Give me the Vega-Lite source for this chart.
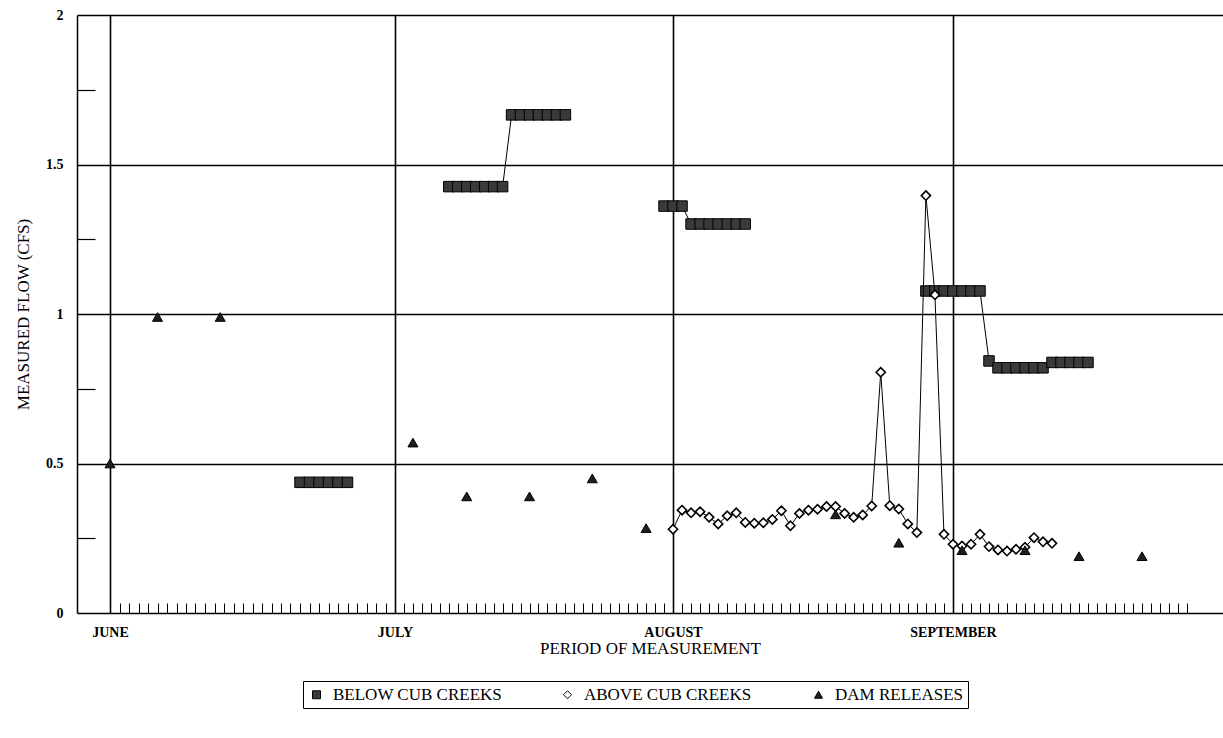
{
  "$schema": "https://vega.github.io/schema/vega-lite/v6.json",
  "width": 1146,
  "height": 598,
  "autosize": {"type": "none"},
  "padding": {"left": 77, "top": 15, "right": 0, "bottom": 125},
  "background": "white",
  "config": {
    "view": {"stroke": null},
    "font": "Liberation Serif"
  },
  "data": {
    "values": [
      {"series": "BELOW CUB CREEKS", "seg": "b1", "day": 20, "flow": 0.437},
      {"series": "BELOW CUB CREEKS", "seg": "b1", "day": 21, "flow": 0.437},
      {"series": "BELOW CUB CREEKS", "seg": "b1", "day": 22, "flow": 0.437},
      {"series": "BELOW CUB CREEKS", "seg": "b1", "day": 23, "flow": 0.437},
      {"series": "BELOW CUB CREEKS", "seg": "b1", "day": 24, "flow": 0.437},
      {"series": "BELOW CUB CREEKS", "seg": "b1", "day": 25, "flow": 0.437},
      {"series": "BELOW CUB CREEKS", "seg": "b2", "day": 36, "flow": 1.426},
      {"series": "BELOW CUB CREEKS", "seg": "b2", "day": 37, "flow": 1.426},
      {"series": "BELOW CUB CREEKS", "seg": "b2", "day": 38, "flow": 1.426},
      {"series": "BELOW CUB CREEKS", "seg": "b2", "day": 39, "flow": 1.426},
      {"series": "BELOW CUB CREEKS", "seg": "b2", "day": 40, "flow": 1.426},
      {"series": "BELOW CUB CREEKS", "seg": "b2", "day": 41, "flow": 1.426},
      {"series": "BELOW CUB CREEKS", "seg": "b2", "day": 42, "flow": 1.426},
      {"series": "BELOW CUB CREEKS", "seg": "b2", "day": 43, "flow": 1.666},
      {"series": "BELOW CUB CREEKS", "seg": "b2", "day": 44, "flow": 1.666},
      {"series": "BELOW CUB CREEKS", "seg": "b2", "day": 45, "flow": 1.666},
      {"series": "BELOW CUB CREEKS", "seg": "b2", "day": 46, "flow": 1.666},
      {"series": "BELOW CUB CREEKS", "seg": "b2", "day": 47, "flow": 1.666},
      {"series": "BELOW CUB CREEKS", "seg": "b2", "day": 48, "flow": 1.666},
      {"series": "BELOW CUB CREEKS", "seg": "b2", "day": 49, "flow": 1.666},
      {"series": "BELOW CUB CREEKS", "seg": "b3", "day": 60, "flow": 1.361},
      {"series": "BELOW CUB CREEKS", "seg": "b3", "day": 61, "flow": 1.361},
      {"series": "BELOW CUB CREEKS", "seg": "b3", "day": 62, "flow": 1.361},
      {"series": "BELOW CUB CREEKS", "seg": "b3", "day": 63, "flow": 1.301},
      {"series": "BELOW CUB CREEKS", "seg": "b3", "day": 64, "flow": 1.301},
      {"series": "BELOW CUB CREEKS", "seg": "b3", "day": 65, "flow": 1.301},
      {"series": "BELOW CUB CREEKS", "seg": "b3", "day": 66, "flow": 1.301},
      {"series": "BELOW CUB CREEKS", "seg": "b3", "day": 67, "flow": 1.301},
      {"series": "BELOW CUB CREEKS", "seg": "b3", "day": 68, "flow": 1.301},
      {"series": "BELOW CUB CREEKS", "seg": "b3", "day": 69, "flow": 1.301},
      {"series": "BELOW CUB CREEKS", "seg": "b4", "day": 89, "flow": 1.077},
      {"series": "BELOW CUB CREEKS", "seg": "b4", "day": 90, "flow": 1.077},
      {"series": "BELOW CUB CREEKS", "seg": "b4", "day": 91, "flow": 1.077},
      {"series": "BELOW CUB CREEKS", "seg": "b4", "day": 92, "flow": 1.077},
      {"series": "BELOW CUB CREEKS", "seg": "b4", "day": 93, "flow": 1.077},
      {"series": "BELOW CUB CREEKS", "seg": "b4", "day": 94, "flow": 1.077},
      {"series": "BELOW CUB CREEKS", "seg": "b4", "day": 95, "flow": 1.077},
      {"series": "BELOW CUB CREEKS", "seg": "b4", "day": 96, "flow": 0.843},
      {"series": "BELOW CUB CREEKS", "seg": "b4", "day": 97, "flow": 0.82},
      {"series": "BELOW CUB CREEKS", "seg": "b4", "day": 98, "flow": 0.82},
      {"series": "BELOW CUB CREEKS", "seg": "b4", "day": 99, "flow": 0.82},
      {"series": "BELOW CUB CREEKS", "seg": "b4", "day": 100, "flow": 0.82},
      {"series": "BELOW CUB CREEKS", "seg": "b4", "day": 101, "flow": 0.82},
      {"series": "BELOW CUB CREEKS", "seg": "b4", "day": 102, "flow": 0.82},
      {"series": "BELOW CUB CREEKS", "seg": "b4", "day": 103, "flow": 0.838},
      {"series": "BELOW CUB CREEKS", "seg": "b4", "day": 104, "flow": 0.838},
      {"series": "BELOW CUB CREEKS", "seg": "b4", "day": 105, "flow": 0.838},
      {"series": "BELOW CUB CREEKS", "seg": "b4", "day": 106, "flow": 0.838},
      {"series": "BELOW CUB CREEKS", "seg": "b4", "day": 107, "flow": 0.838},
      {"series": "ABOVE CUB CREEKS", "seg": "a", "day": 61, "flow": 0.28},
      {"series": "ABOVE CUB CREEKS", "seg": "a", "day": 62, "flow": 0.344},
      {"series": "ABOVE CUB CREEKS", "seg": "a", "day": 63, "flow": 0.335},
      {"series": "ABOVE CUB CREEKS", "seg": "a", "day": 64, "flow": 0.339},
      {"series": "ABOVE CUB CREEKS", "seg": "a", "day": 65, "flow": 0.32},
      {"series": "ABOVE CUB CREEKS", "seg": "a", "day": 66, "flow": 0.298},
      {"series": "ABOVE CUB CREEKS", "seg": "a", "day": 67, "flow": 0.325},
      {"series": "ABOVE CUB CREEKS", "seg": "a", "day": 68, "flow": 0.335},
      {"series": "ABOVE CUB CREEKS", "seg": "a", "day": 69, "flow": 0.303},
      {"series": "ABOVE CUB CREEKS", "seg": "a", "day": 70, "flow": 0.3},
      {"series": "ABOVE CUB CREEKS", "seg": "a", "day": 71, "flow": 0.302},
      {"series": "ABOVE CUB CREEKS", "seg": "a", "day": 72, "flow": 0.313},
      {"series": "ABOVE CUB CREEKS", "seg": "a", "day": 73, "flow": 0.342},
      {"series": "ABOVE CUB CREEKS", "seg": "a", "day": 74, "flow": 0.292},
      {"series": "ABOVE CUB CREEKS", "seg": "a", "day": 75, "flow": 0.333},
      {"series": "ABOVE CUB CREEKS", "seg": "a", "day": 76, "flow": 0.344},
      {"series": "ABOVE CUB CREEKS", "seg": "a", "day": 77, "flow": 0.347},
      {"series": "ABOVE CUB CREEKS", "seg": "a", "day": 78, "flow": 0.356},
      {"series": "ABOVE CUB CREEKS", "seg": "a", "day": 79, "flow": 0.356},
      {"series": "ABOVE CUB CREEKS", "seg": "a", "day": 80, "flow": 0.333},
      {"series": "ABOVE CUB CREEKS", "seg": "a", "day": 81, "flow": 0.32},
      {"series": "ABOVE CUB CREEKS", "seg": "a", "day": 82, "flow": 0.328},
      {"series": "ABOVE CUB CREEKS", "seg": "a", "day": 83, "flow": 0.358},
      {"series": "ABOVE CUB CREEKS", "seg": "a", "day": 84, "flow": 0.805},
      {"series": "ABOVE CUB CREEKS", "seg": "a", "day": 85, "flow": 0.359},
      {"series": "ABOVE CUB CREEKS", "seg": "a", "day": 86, "flow": 0.348},
      {"series": "ABOVE CUB CREEKS", "seg": "a", "day": 87, "flow": 0.298},
      {"series": "ABOVE CUB CREEKS", "seg": "a", "day": 88, "flow": 0.269},
      {"series": "ABOVE CUB CREEKS", "seg": "a", "day": 89, "flow": 1.396},
      {"series": "ABOVE CUB CREEKS", "seg": "a", "day": 90, "flow": 1.064},
      {"series": "ABOVE CUB CREEKS", "seg": "a", "day": 91, "flow": 0.263},
      {"series": "ABOVE CUB CREEKS", "seg": "a", "day": 92, "flow": 0.23},
      {"series": "ABOVE CUB CREEKS", "seg": "a", "day": 93, "flow": 0.224},
      {"series": "ABOVE CUB CREEKS", "seg": "a", "day": 94, "flow": 0.23},
      {"series": "ABOVE CUB CREEKS", "seg": "a", "day": 95, "flow": 0.263},
      {"series": "ABOVE CUB CREEKS", "seg": "a", "day": 96, "flow": 0.222},
      {"series": "ABOVE CUB CREEKS", "seg": "a", "day": 97, "flow": 0.211},
      {"series": "ABOVE CUB CREEKS", "seg": "a", "day": 98, "flow": 0.207},
      {"series": "ABOVE CUB CREEKS", "seg": "a", "day": 99, "flow": 0.213},
      {"series": "ABOVE CUB CREEKS", "seg": "a", "day": 100, "flow": 0.22},
      {"series": "ABOVE CUB CREEKS", "seg": "a", "day": 101, "flow": 0.252},
      {"series": "ABOVE CUB CREEKS", "seg": "a", "day": 102, "flow": 0.238},
      {"series": "ABOVE CUB CREEKS", "seg": "a", "day": 103, "flow": 0.233},
      {"series": "DAM RELEASES", "seg": "d", "day": 0, "flow": 0.5},
      {"series": "DAM RELEASES", "seg": "d", "day": 5, "flow": 0.99},
      {"series": "DAM RELEASES", "seg": "d", "day": 11.6, "flow": 0.99},
      {"series": "DAM RELEASES", "seg": "d", "day": 32, "flow": 0.57},
      {"series": "DAM RELEASES", "seg": "d", "day": 38, "flow": 0.39},
      {"series": "DAM RELEASES", "seg": "d", "day": 45, "flow": 0.39},
      {"series": "DAM RELEASES", "seg": "d", "day": 52, "flow": 0.45},
      {"series": "DAM RELEASES", "seg": "d", "day": 58, "flow": 0.284},
      {"series": "DAM RELEASES", "seg": "d", "day": 79, "flow": 0.33},
      {"series": "DAM RELEASES", "seg": "d", "day": 86, "flow": 0.235},
      {"series": "DAM RELEASES", "seg": "d", "day": 93, "flow": 0.21},
      {"series": "DAM RELEASES", "seg": "d", "day": 100, "flow": 0.21},
      {"series": "DAM RELEASES", "seg": "d", "day": 106, "flow": 0.19},
      {"series": "DAM RELEASES", "seg": "d", "day": 113, "flow": 0.19}
    ]
  },
  "encoding": {
    "x": {
      "field": "day",
      "type": "quantitative",
      "scale": {"type": "linear", "domain": [-3.5, 0, 30, 61, 92, 122], "range": [0, 33, 318, 596, 876, 1146], "nice": false, "zero": false},
      "axis": {
        "values": [0,1,2,3,4,5,6,7,8,9,10,11,12,13,14,15,16,17,18,19,20,21,22,23,24,25,26,27,28,29,30,31,32,33,34,35,36,37,38,39,40,41,42,43,44,45,46,47,48,49,50,51,52,53,54,55,56,57,58,59,60,61,62,63,64,65,66,67,68,69,70,71,72,73,74,75,76,77,78,79,80,81,82,83,84,85,86,87,88,89,90,91,92,93,94,95,96,97,98,99,100,101,102,103,104,105,106,107,108,109,110,111,112,113,114,115,116,117,118],
        "labelExpr": "datum.value == 0 ? 'JUNE' : datum.value == 30 ? 'JULY' : datum.value == 61 ? 'AUGUST' : datum.value == 92 ? 'SEPTEMBER' : ''",
        "labelOverlap": false,
        "labelFlush": false,
        "labelFont": "Liberation Serif",
        "labelFontWeight": "bold",
        "labelFontSize": 14,
        "labelColor": "black",
        "labelPadding": 22,
        "tickSize": -10,
        "tickColor": "black",
        "tickWidth": 1,
        "tickOpacity": {"condition": {"test": "datum.value == 0 || datum.value == 30 || datum.value == 61 || datum.value == 92", "value": 0}, "value": 1},
        "grid": true,
        "gridColor": "black",
        "gridWidth": 1.6,
        "gridOpacity": {"condition": {"test": "datum.value == 0 || datum.value == 30 || datum.value == 61 || datum.value == 92", "value": 1}, "value": 0},
        "domainColor": "black",
        "domainWidth": 1.5,
        "title": "PERIOD OF MEASUREMENT",
        "titleFont": "Liberation Serif",
        "titleFontWeight": "normal",
        "titleFontSize": 17,
        "titleColor": "black",
        "titlePadding": 1
      }
    },
    "y": {
      "field": "flow",
      "type": "quantitative",
      "scale": {"domain": [0, 2], "nice": false, "zero": true},
      "axis": {
        "values": [0, 0.25, 0.5, 0.75, 1, 1.25, 1.5, 1.75, 2],
        "labelExpr": "datum.value % 0.5 == 0 ? '' + datum.value : ''",
        "labelOverlap": false,
        "labelFlush": false,
        "labelFont": "Liberation Serif",
        "labelFontWeight": "bold",
        "labelFontSize": 14,
        "labelColor": "black",
        "labelPadding": 32,
        "tickSize": -18,
        "tickColor": "black",
        "tickWidth": 1.2,
        "tickOpacity": {"condition": {"test": "datum.value % 0.5 == 0", "value": 0}, "value": 1},
        "grid": true,
        "gridColor": "black",
        "gridWidth": 1.6,
        "gridOpacity": {"condition": {"test": "datum.value % 0.5 == 0 && datum.value > 0", "value": 1}, "value": 0},
        "domainColor": "black",
        "domainWidth": 1.5,
        "title": "MEASURED FLOW (CFS)",
        "titleFont": "Liberation Serif",
        "titleFontWeight": "normal",
        "titleFontSize": 17,
        "titleColor": "black",
        "titlePadding": 13
      }
    }
  },
  "layer": [
    {
      "transform": [{"filter": "datum.series === 'BELOW CUB CREEKS'"}],
      "mark": {"type": "line", "color": "black", "strokeWidth": 1},
      "encoding": {"detail": {"field": "seg", "type": "nominal"}}
    },
    {
      "transform": [{"filter": "datum.series === 'BELOW CUB CREEKS'"}],
      "mark": {"type": "point", "filled": true, "opacity": 1, "fillOpacity": 1, "stroke": "black", "strokeWidth": 1, "size": 110},
      "encoding": {
        "shape": {"field": "series", "type": "nominal", "scale": {"domain": ["BELOW CUB CREEKS", "ABOVE CUB CREEKS", "DAM RELEASES"], "range": ["square", "diamond", "triangle-up"]}, "title": null},
        "fill": {"field": "series", "type": "nominal", "scale": {"domain": ["BELOW CUB CREEKS", "ABOVE CUB CREEKS", "DAM RELEASES"], "range": ["#3a3a3a", "#ffffff", "#1e1e1e"]}, "title": null}
      }
    },
    {
      "transform": [{"filter": "datum.series === 'ABOVE CUB CREEKS'"}],
      "mark": {"type": "line", "color": "black", "strokeWidth": 1},
      "encoding": {}
    },
    {
      "transform": [{"filter": "datum.series === 'ABOVE CUB CREEKS'"}],
      "mark": {"type": "point", "filled": true, "opacity": 1, "fillOpacity": 1, "stroke": "black", "strokeWidth": 1.6, "size": 85},
      "encoding": {
        "shape": {"field": "series", "type": "nominal", "title": null},
        "fill": {"field": "series", "type": "nominal", "title": null}
      }
    },
    {
      "transform": [{"filter": "datum.series === 'DAM RELEASES'"}],
      "mark": {"type": "point", "filled": true, "opacity": 1, "fillOpacity": 1, "stroke": "black", "strokeWidth": 1, "size": 100},
      "encoding": {
        "shape": {"field": "series", "type": "nominal", "title": null},
        "fill": {"field": "series", "type": "nominal", "title": null,
          "legend": {
            "orient": "none",
            "legendX": 226,
            "legendY": 666,
            "direction": "horizontal",
            "columns": 3,
            "gridAlign": "all",
            "strokeColor": "black",
            "padding": 5,
            "columnPadding": 56,
            "symbolSize": 64,
            "symbolStrokeColor": "black",
            "symbolStrokeWidth": 1,
            "labelFont": "Liberation Serif",
            "labelFontSize": 17,
            "labelColor": "black",
            "labelOffset": 8,
            "labelLimit": 500
          }
        }
      }
    }
  ]
}
